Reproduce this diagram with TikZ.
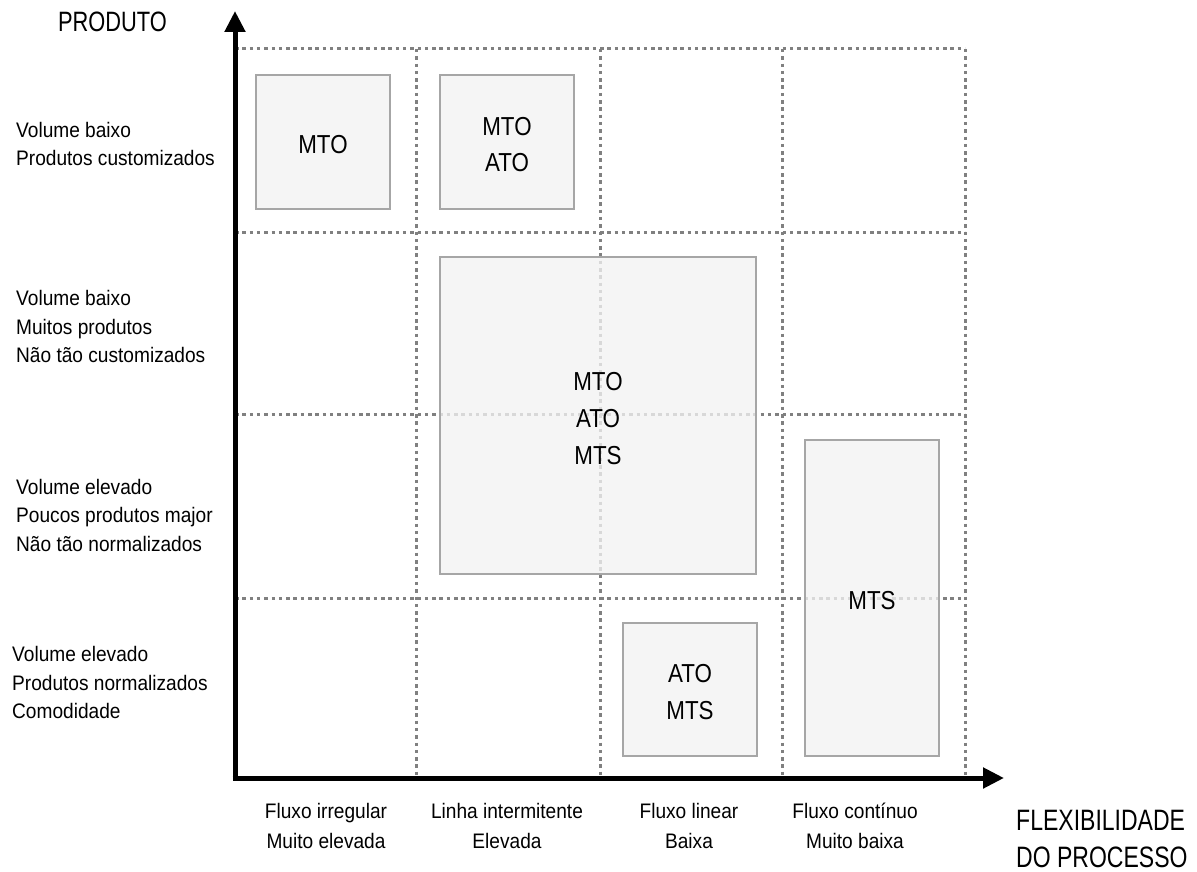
\documentclass[tikz,border=0pt]{standalone}
\usepackage{fontspec}
\setmainfont{Liberation Sans}[FakeStretch=0.91]
\newfontfamily\boxfont{Liberation Sans}[FakeStretch=0.86]
\newfontfamily\titlefont{Liberation Sans}[FakeStretch=0.78]
\usetikzlibrary{arrows.meta}
\definecolor{gridgray}{HTML}{808080}
\definecolor{boxfill}{HTML}{F2F2F2}
\definecolor{boxline}{HTML}{A6A6A6}
\begin{document}
\begin{tikzpicture}[x=1pt,y=-1pt,
  gridline/.style={gridgray,line width=3pt,dash pattern=on 3.5pt off 3.8pt},
  axis/.style={black,line width=5pt,-{Triangle[length=21pt,width=20pt]}},
  catbox/.style={draw=boxline,line width=1.8pt,fill=boxfill,fill opacity=0.78,inner sep=0pt},
  boxtext/.style={align=center,inner sep=0pt,yshift=-3pt,font=\boxfont\fontsize{26}{36}\selectfont},
  rowlabel/.style={anchor=west,align=left,inner sep=0pt,font=\fontsize{21}{28.5}\selectfont},
  collabel/.style={align=center,inner sep=0pt,font=\fontsize{21}{30}\selectfont},
  axislabel/.style={inner sep=0pt,align=left,font=\titlefont\fontsize{29.5}{37}\selectfont}]
\useasboundingbox (0,0) rectangle (1197,872);

% dotted grid
\foreach \yy in {49,232,414,598}
  \draw[gridline] (235,\yy) -- (965,\yy);
\foreach \xx in {416,600,782,965}
  \draw[gridline] (\xx,49) -- (\xx,778);

% category boxes (translucent, so the grid shows faintly through them)
\node[catbox,minimum width=134pt,minimum height=134pt] (mto) at (323,142) {};
\node[catbox,minimum width=134pt,minimum height=134pt] (mtoato) at (507,142) {};
\node[catbox,minimum width=316pt,minimum height=317pt] (all) at (598,415.5) {};
\node[catbox,minimum width=134pt,minimum height=316pt] (mts) at (872,598) {};
\node[catbox,minimum width=134pt,minimum height=133pt] (atomts) at (690,689.5) {};

% strategies in each box
\node[boxtext] (mto-t) at (mto.center) {MTO};
\node[boxtext] (mtoato-t) at (mtoato.center) {MTO\\ATO};
\node[boxtext,font=\boxfont\fontsize{26}{37}\selectfont] (all-t) at (all.center) {MTO\\ATO\\MTS};
\node[boxtext] (mts-t) at (mts.center) {MTS};
\node[boxtext,font=\boxfont\fontsize{26}{37}\selectfont] (atomts-t) at (atomts.center) {ATO\\MTS};

% axes
\coordinate (origin) at (235,778);
\coordinate (ytip) at (235,11);
\coordinate (xtip) at (1004,778);
\draw[axis] ([yshift=2.5pt]origin) -- (ytip);
\draw[axis] ([xshift=-2.5pt]origin) -- (xtip);

% axis titles
\node[axislabel,font=\titlefont\fontsize{28}{36}\selectfont] (prod) at (112.5,22) {PRODUTO};
\node[axislabel,anchor=west] (flex) at (1016,838.5) {FLEXIBILIDADE\\DO PROCESSO};

% row descriptions
\node[rowlabel] (r1) at (16,144) {Volume baixo\\Produtos customizados};
\node[rowlabel] (r2) at (16,326.5) {Volume baixo\\Muitos produtos\\Não tão customizados};
\node[rowlabel] (r3) at (16,515) {Volume elevado\\Poucos produtos major\\Não tão normalizados};
\node[rowlabel] (r4) at (12,682.5) {Volume elevado\\Produtos normalizados\\Comodidade};

% column descriptions
\node[collabel] (c1) at (326,825.5) {Fluxo irregular\\Muito elevada};
\node[collabel] (c2) at (507,825.5) {Linha intermitente\\Elevada};
\node[collabel] (c3) at (689,825.5) {Fluxo linear\\Baixa};
\node[collabel] (c4) at (855,825.5) {Fluxo contínuo\\Muito baixa};
\end{tikzpicture}
\end{document}
